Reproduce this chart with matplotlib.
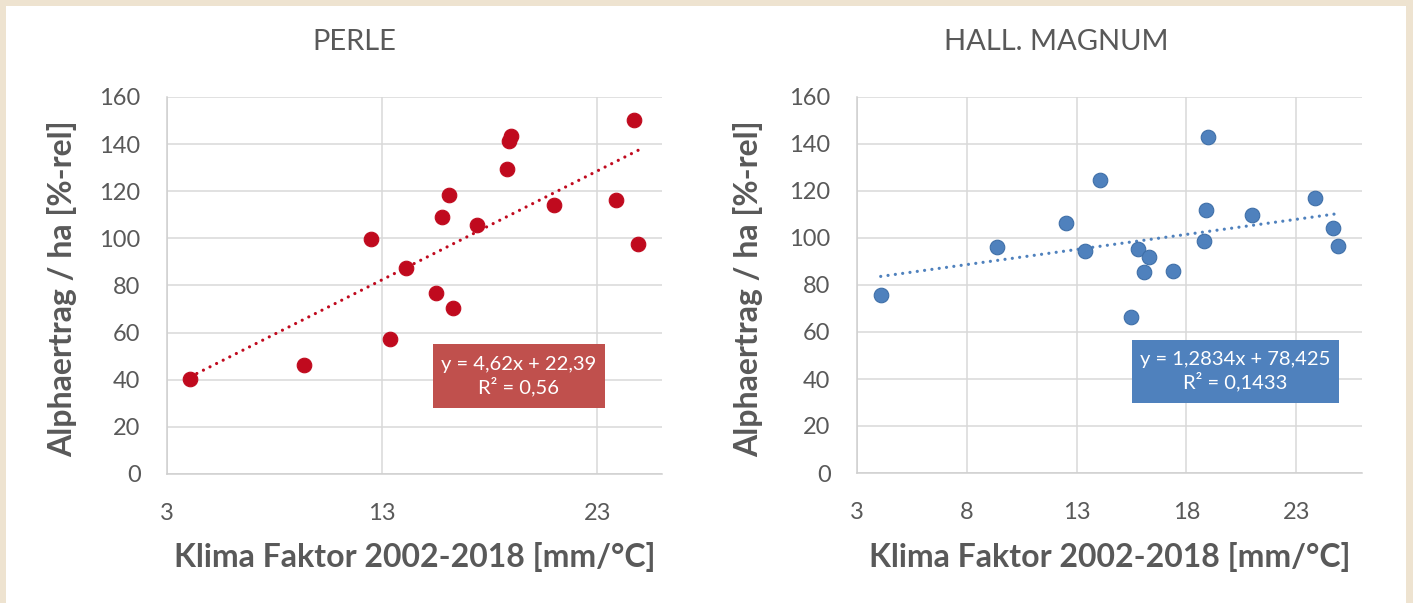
import matplotlib
matplotlib.use("Agg")
import matplotlib.pyplot as plt
from matplotlib.patches import Rectangle

plt.rcParams['font.family'] = ['Lato', 'DejaVu Sans']

# Klima Faktor 2002-2018 [mm/°C] per year, same for both varieties
klima_faktor = [4.08, 9.38, 12.5, 13.38, 14.09, 15.49, 15.8, 16.09, 16.28,
                17.39, 18.79, 18.88, 18.99, 20.99, 23.88, 24.69, 24.89]

# Alphaertrag / ha [%-rel]
perle = [40.4, 46.2, 99.6, 57.2, 87.6, 76.7, 109.0, 118.5, 70.3,
         105.5, 129.5, 141.2, 143.4, 114.1, 116.4, 150.3, 97.5]
magnum = [75.6, 96.0, 106.2, 94.5, 124.8, 66.2, 95.3, 85.4, 92.1,
          85.8, 98.6, 112.1, 143.1, 109.6, 116.9, 104.3, 96.5]

# linear trend lines as given in the chart
perle_fit = (4.62, 22.39)
magnum_fit = (1.2834, 78.425)
perle_label = "y = 4,62x + 22,39\nR² = 0,56"
magnum_label = "y = 1,2834x + 78,425\nR² = 0,1433"

perle_xticks = [3, 13, 23]
magnum_xticks = [3, 8, 13, 18, 23]
yticks = [0, 20, 40, 60, 80, 100, 120, 140, 160]

GREY = '#595959'
GRID = '#D9D9D9'
W, H = 1413, 603


def draw_panel(ax, yields, fit, label, xticks, color, edge, box_color, box):
    ax.set_xlim(3, 26)
    ax.set_ylim(0, 160)
    ax.set_xticks(xticks)
    ax.set_yticks(yticks)
    ax.tick_params(length=0, labelsize=17, labelcolor=GREY)
    ax.tick_params(axis='y', pad=19)
    ax.tick_params(axis='x', pad=21)
    ax.grid(True, color=GRID, linewidth=1.1)
    ax.set_axisbelow(True)
    for side in ['top', 'right']:
        ax.spines[side].set_visible(False)
    for side in ['left', 'bottom']:
        ax.spines[side].set_color('#CFCFCF')
        ax.spines[side].set_linewidth(1.1)

    ax.scatter(klima_faktor, yields, s=110, color=color, edgecolors=edge,
               linewidths=0.8, zorder=3)

    x0, x1 = min(klima_faktor), max(klima_faktor)
    slope, icpt = fit
    ax.plot([x0, x1], [slope * x0 + icpt, slope * x1 + icpt], color=color,
            linewidth=2.3, linestyle=(0, (0.01, 2.3)), dash_capstyle='round',
            zorder=2)

    bx0, by0, bx1, by1 = box
    ax.add_patch(Rectangle((bx0, by0), bx1 - bx0, by1 - by0,
                           transform=ax.transAxes, facecolor=box_color,
                           edgecolor='none', zorder=4))
    ax.text((bx0 + bx1) / 2, (by0 + by1) / 2, label, transform=ax.transAxes,
            ha='center', va='center', multialignment='center', fontsize=14.5,
            color='white', linespacing=1.25, zorder=5)


fig = plt.figure(figsize=(W / 100, H / 100), dpi=100)
fig.patch.set_facecolor('#EEE3D0')
fig.add_artist(Rectangle((6 / W, 0), 1400 / W, 597 / H, transform=fig.transFigure,
                         facecolor='white', edgecolor='none', zorder=0))

ax1 = fig.add_axes([167 / W, (H - 474) / H, 495 / W, 377 / H])
ax2 = fig.add_axes([857 / W, (H - 473) / H, 505 / W, 376 / H])

draw_panel(ax1, perle, perle_fit, perle_label, perle_xticks,
           '#C00A1E', '#C00A1E', '#C0504D', (0.537, 0.175, 0.885, 0.345))
draw_panel(ax2, magnum, magnum_fit, magnum_label, magnum_xticks,
           '#4F81BD', '#3F6FA8', '#4F81BD', (0.545, 0.186, 0.954, 0.354))

for cx, lx, ly, title in [(354, 415, 62, 'PERLE'), (1056, 1110, 748, 'HALL. MAGNUM')]:
    fig.text(cx / W, (H - 42) / H, title, ha='center', va='center',
             fontsize=21, color=GREY)
    fig.text(lx / W, (H - 557) / H, 'Klima Faktor 2002-2018 [mm/°C]',
             ha='center', va='center', fontsize=23, fontweight='bold', color=GREY)
    fig.text(ly / W, (H - 289) / H, 'Alphaertrag / ha [%-rel]', rotation=90,
             ha='center', va='center', fontsize=23, fontweight='bold', color=GREY)

fig.savefig('out.png', dpi=100, facecolor=fig.get_facecolor())
